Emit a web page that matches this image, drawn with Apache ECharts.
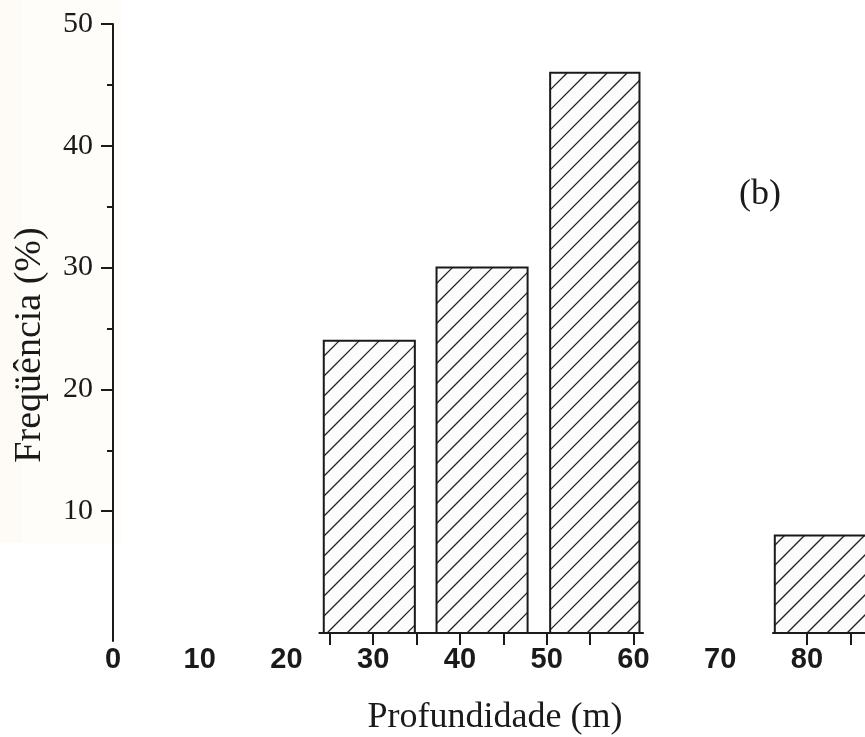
<!DOCTYPE html>
<html>
<head>
<meta charset="utf-8">
<script src="https://cdn.jsdelivr.net/npm/echarts@6/dist/echarts.min.js"></script>
<style>
  html, body { margin: 0; padding: 0; background: #ffffff; }
  #chart { width: 865px; height: 737px; }
</style>
</head>
<body>
<div id="chart"></div>
<script>
// Depth classes (m): [start, end] of each histogram bar
const depthBins = [[24.3, 34.8], [37.3, 47.8], [50.4, 60.7], [76.3, 92]];
// Frequency of each depth class (%)
const frequency = [24, 30, 46, 8];
// Axis tick values
const xTickLabels = [0, 10, 20, 30, 40, 50, 60, 70, 80];
const xTickMarks = [25, 30, 35, 40, 45, 50, 55, 60, 80, 85];
const baselineSegments = [[23.7, 61.2], [76.0, 92]];
const yTickLabels = [10, 20, 30, 40, 50];
const yMinorTicks = [15, 25, 35, 45];

const INK = '#1a1a1a';
const SERIF = '"Liberation Serif", "DejaVu Serif", serif';
const SANS = '"Liberation Sans", Arial, sans-serif';

const barData = depthBins.map((b, i) => [b[0], b[1], frequency[i]]);

// Hatched histogram bar: outlined rectangle filled with "/" diagonals
function renderBar(params, api) {
  const topLeft = api.coord([api.value(0), api.value(2)]);
  const bottomRight = api.coord([api.value(1), 0]);
  const rx = topLeft[0], ry = topLeft[1];
  const w = bottomRight[0] - rx, h = bottomRight[1] - ry;
  const step = 20;
  const children = [{
    type: 'rect',
    shape: { x: rx, y: ry, width: w, height: h },
    style: { fill: '#fcfcfc', stroke: null }
  }];
  const cStart = Math.ceil((rx + ry) / step) * step;
  const cEnd = rx + w + ry + h;
  for (let c = cStart; c <= cEnd; c += step) {
    const xa = Math.max(rx, c - (ry + h));
    const xb = Math.min(rx + w, c - ry);
    if (xb - xa < 0.5) continue;
    children.push({
      type: 'line',
      shape: { x1: xa, y1: c - xa, x2: xb, y2: c - xb },
      style: { stroke: '#222222', lineWidth: 1.3 }
    });
  }
  children.push({
    type: 'rect',
    shape: { x: rx, y: ry, width: w, height: h },
    style: { fill: null, stroke: INK, lineWidth: 2 }
  });
  return { type: 'group', children: children };
}

// Short pieces of the depth axis baseline
function renderBaseline(params, api) {
  const a = api.coord([api.value(0), 0]);
  const b = api.coord([api.value(1), 0]);
  return {
    type: 'line',
    shape: { x1: a[0], y1: a[1], x2: b[0], y2: b[1] },
    style: { stroke: INK, lineWidth: 2 }
  };
}

const chart = echarts.init(document.getElementById('chart'), null, { renderer: 'canvas' });

chart.setOption({
  backgroundColor: '#ffffff',
  animation: false,
  graphic: [
    { type: 'rect', z: -10, shape: { x: 0, y: 0, width: 22, height: 543 }, style: { fill: '#fefaf5' } },
    { type: 'rect', z: -10, shape: { x: 22, y: 0, width: 100, height: 543 }, style: { fill: '#fffdf9' } },
    {
      type: 'text', left: 739, top: 177,
      style: { text: '(b)', font: '36px ' + SERIF, fill: INK }
    },
    {
      type: 'text', x: 30, y: 345, rotation: Math.PI / 2,
      style: {
        text: 'Freqüência (%)', font: '38px ' + SERIF, fill: INK,
        align: 'center', verticalAlign: 'middle'
      }
    }
  ],
  grid: {
    left: 113, right: 0, top: 24, bottom: 96,
    containLabel: false, outerBoundsMode: 'none'
  },
  xAxis: {
    type: 'value',
    min: 0,
    max: 86.7,
    axisLine: { show: false, onZero: true },
    splitLine: { show: false },
    axisTick: {
      show: true, inside: false, length: 12,
      customValues: xTickMarks,
      lineStyle: { color: INK, width: 2 }
    },
    axisLabel: {
      customValues: xTickLabels,
      margin: 4,
      color: INK,
      fontFamily: SANS,
      fontSize: 29,
      fontWeight: 'bold'
    },
    name: 'Profundidade (m)',
    nameLocation: 'middle',
    nameGap: 59,
    nameTextStyle: { fontFamily: SERIF, fontSize: 36, color: INK, padding: [0, 0, 0, 12] }
  },
  yAxis: [
    {
      type: 'value',
      min: -0.66,
      max: 50,
      axisLine: { show: true, onZero: false, lineStyle: { color: INK, width: 2 } },
      splitLine: { show: false },
      axisTick: {
        show: true, inside: false, length: 12,
        customValues: yTickLabels,
        lineStyle: { color: INK, width: 2 }
      },
      axisLabel: {
        customValues: yTickLabels,
        margin: 20,
        color: INK,
        fontFamily: SERIF,
        fontSize: 30
      }
    },
    {
      type: 'value',
      min: -0.66,
      max: 50,
      position: 'left',
      axisLine: { show: false, onZero: false },
      splitLine: { show: false },
      axisTick: {
        show: true, inside: false, length: 6,
        customValues: yMinorTicks,
        lineStyle: { color: INK, width: 2 }
      },
      axisLabel: { show: false }
    }
  ],
  series: [
    {
      type: 'custom',
      name: 'Frequência',
      clip: true,
      renderItem: renderBar,
      encode: { x: [0, 1], y: 2 },
      data: barData,
      z: 2
    },
    {
      type: 'custom',
      name: 'baseline',
      clip: true,
      renderItem: renderBaseline,
      encode: { x: [0, 1] },
      data: baselineSegments,
      z: 3
    }
  ]
});
</script>
</body>
</html>
